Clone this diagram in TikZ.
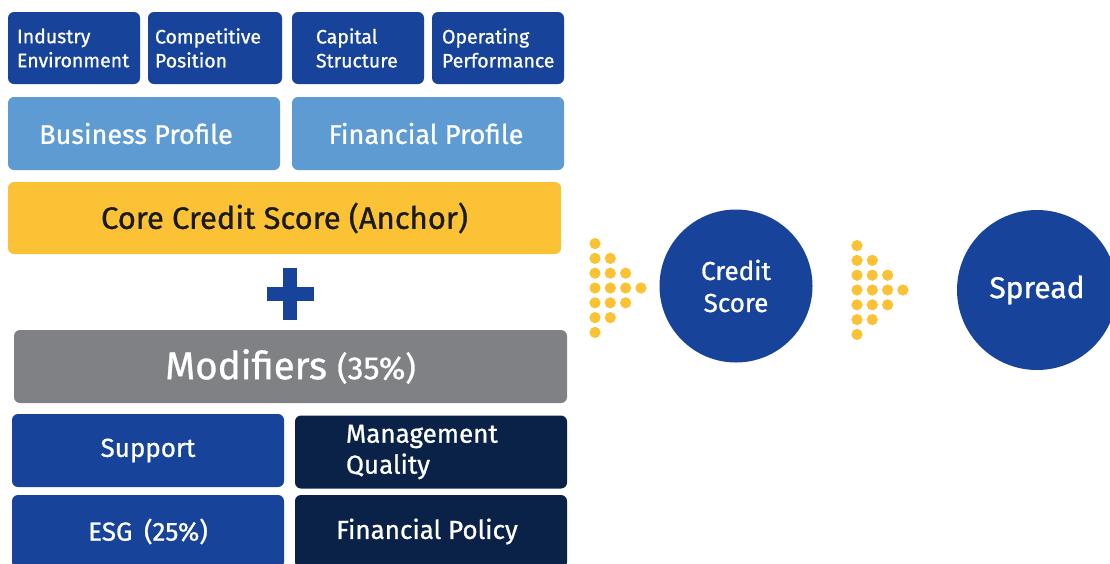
\documentclass[tikz,border=0pt]{standalone}
\usepackage{fontspec}
\setmainfont{Fira Sans}[FakeBold=0.9]
\definecolor{cblue}{HTML}{17449A}
\definecolor{clight}{HTML}{5E9BD3}
\definecolor{cyellow}{HTML}{FCC236}
\definecolor{cgray}{HTML}{808185}
\definecolor{cnavy}{HTML}{0B2248}
\definecolor{ctext}{HTML}{1A1A1A}
\begin{document}
\begin{tikzpicture}[x=1pt,y=-1pt,
  card/.style={rounded corners=6pt, inner ysep=0pt, text=white, align=center},
  small/.style={card, fill=cblue, minimum width=132pt, minimum height=72pt, font=\fontsize{19.5}{24}\selectfont, align=left},
  prof/.style={card, fill=clight, minimum width=272pt, minimum height=73pt, inner xsep=0pt, font=\fontsize{27}{30}\selectfont},
  mbox/.style={card, minimum width=272pt, minimum height=73pt, inner xsep=0pt, font=\fontsize{26}{31}\selectfont},
  disc/.style={circle, fill=cblue, text=white, inner sep=0pt, align=center},
  dot/.style={cyellow}]
\useasboundingbox (0,0) rectangle (1110,563);
\clip (0,0) rectangle (1110,563);
\fill[white] (0,0) rectangle (1110,563);
% top row
\node[small, inner xsep=9pt, text width=114pt] (ie) at (74,48) {Industry\\Environment};
\node[small, minimum width=134pt, inner xsep=7pt, text width=120pt] (cp) at (215,48) {Competitive\\Position};
\node[small, inner xsep=24pt, text width=84pt] (cs) at (358,48) {Capital\\Structure};
\node[small, inner xsep=10pt, text width=112pt] (op) at (498,48) {Operating\\Performance};
% profiles
\node[prof] (bp) at (144,133.5) {\hspace*{-16pt}Business Profile};
\node[prof] (fp) at (428,133.5) {\hspace*{-4pt}Financial Profile};
% core
\node[card, fill=cyellow, text=ctext, minimum width=553pt, minimum height=72pt, inner xsep=0pt, font=\fontsize{31}{34}\selectfont] (core) at (284.5,218) {Core Credit Score (Anchor)};
% plus
\fill[cblue] (266.5,287) rectangle (313.5,301);
\fill[cblue] (283,268) rectangle (296.5,320);
% modifiers
\node[card, fill=cgray, minimum width=553pt, minimum height=73pt, inner xsep=0pt, font=\fontsize{38.5}{42}\selectfont] (mod) at (290.5,366.5) {Modifiers {\fontsize{32}{34}\selectfont(35\%)}};
\node[mbox, fill=cblue] (sup) at (148,450.5) {Support};
\node[mbox, fill=cnavy, inner xsep=51pt, text width=170pt, align=left] (mq) at (431,452) {Management\\Quality};
\node[mbox, fill=cblue] (esg) at (148,531.5) {ESG\hspace{0.45em}(25\%)};
\node[mbox, fill=cnavy] (fpol) at (431,531.5) {\hspace*{-8pt}Financial Policy};
% dot arrows
\foreach \ox/\oy in {595/288, 857/290}{
  \foreach \c/\rows in {0/{-3,-2,-1,0,1,2,3}, 1/{-2,-1,0,1,2}, 2/{-1,0,1}, 3/{0}}{
    \foreach \r in \rows{
      \fill[dot] (\ox+15.3*\c, \oy+14.8*\r) circle (5.6);
    }
  }
}
% circles
\node[disc, minimum size=153pt, font=\fontsize{26}{32}\selectfont] (credit) at (736,286) {Credit\\Score};
\node[disc, minimum size=160pt, font=\fontsize{30}{34}\selectfont] (spread) at (1037,290) {Spread};
\end{tikzpicture}
\end{document}
